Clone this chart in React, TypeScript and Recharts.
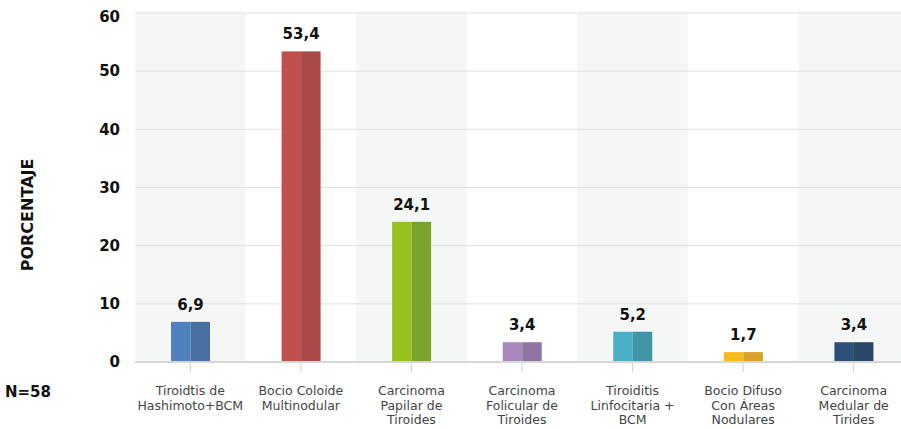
import React from 'react';
import { BarChart, Bar, XAxis, YAxis, CartesianGrid, ReferenceArea, LabelList } from 'recharts';

// categorías (saltos de línea como en la figura)
const categories = [
  'Tiroidtis de\nHashimoto+BCM',
  'Bocio Coloide\nMultinodular',
  'Carcinoma\nPapilar de\nTiroides',
  'Carcinoma\nFolicular de\nTiroides',
  'Tiroiditis\nLinfocitaria +\nBCM',
  'Bocio Difuso\nCon Áreas\nNodulares',
  'Carcinoma\nMedular de\nTirides',
];
const percentages = [6.9, 53.4, 24.1, 3.4, 5.2, 1.7, 3.4];
const yTicks = [0, 10, 20, 30, 40, 50, 60];

const lightColors = ['#4f81bf', '#c0504d', '#96c11f', '#a888bf', '#4aafc6', '#f8bc19', '#2d4f79'];
const darkColors = ['#4770a0', '#a84a49', '#7aa52d', '#8f73a0', '#3f95a5', '#d9a127', '#2a4667'];

const data = categories.map((name, i) => ({ name, value: percentages[i] }));

const FONT = '"DejaVu Sans", sans-serif';

const TwoToneBar = (props: any) => {
  const { x, y, width, height, index } = props;
  const half = width / 2;
  return (
    <g>
      <rect x={x} y={y} width={half} height={height} fill={lightColors[index]} />
      <rect x={x + half} y={y} width={width - half} height={height} fill={darkColors[index]} />
    </g>
  );
};

const CategoryTick = (props: any) => {
  const { x, y, payload } = props;
  const lines = String(payload.value).split('\n');
  return (
    <text x={x} y={y + 21} textAnchor="middle" fontSize={12.5} fill="#444" fontFamily={FONT}>
      {lines.map((line, i) => (
        <tspan key={i} x={x} dy={i === 0 ? 0 : 14.6}>
          {line}
        </tspan>
      ))}
    </text>
  );
};

const App = () => {
  return (
    <div
      style={{
        position: 'fixed',
        left: 0,
        top: 0,
        width: 901,
        height: 429,
        overflow: 'hidden',
        background: '#fff',
        fontFamily: FONT,
      }}
    >
      <div style={{ position: 'absolute', left: 8, top: 8, width: 910, height: 421 }}>
        <BarChart
          width={910}
          height={421}
          data={data}
          margin={{ top: 5, right: 9, left: 0, bottom: 7 }}
          barSize={39}
        >
          {[0, 2, 4, 6].map((i) => (
            <ReferenceArea
              key={i}
              x1={categories[i]}
              x2={categories[i]}
              fill="#dfe6e2"
              fillOpacity={0.3}
              stroke="none"
              ifOverflow="visible"
            />
          ))}
          <CartesianGrid vertical={false} stroke="#e0e0e0" />
          <XAxis
            dataKey="name"
            interval={0}
            height={60}
            tickSize={10}
            tickMargin={2}
            axisLine={{ stroke: '#d6d6d6', strokeWidth: 2 }}
            tickLine={{ stroke: '#cfcfcf' }}
            tick={<CategoryTick />}
          />
          <YAxis
            width={127}
            domain={[0, 60]}
            ticks={yTicks}
            axisLine={false}
            tickLine={false}
            tickSize={8}
            tickMargin={7}
            tick={{ fontSize: 15, fontWeight: 700, fill: '#111', fontFamily: FONT }}
          />
          <Bar dataKey="value" shape={<TwoToneBar />} isAnimationActive={false}>
            <LabelList
              dataKey="value"
              position="top"
              offset={12}
              formatter={(v: any) => String(v).replace('.', ',')}
              style={{ fontSize: 15, fontWeight: 700, fill: '#111', fontFamily: FONT }}
            />
          </Bar>
        </BarChart>
      </div>
      <span
        style={{
          position: 'absolute',
          left: 27,
          top: 215,
          transform: 'translate(-50%, -50%) rotate(-90deg)',
          whiteSpace: 'nowrap',
          fontSize: 16,
          fontWeight: 700,
          color: '#111',
        }}
      >
        PORCENTAJE
      </span>
      <span
        style={{
          position: 'absolute',
          left: 5,
          top: 383,
          whiteSpace: 'nowrap',
          fontSize: 15,
          fontWeight: 700,
          color: '#111',
        }}
      >
        N=58
      </span>
    </div>
  );
};

export default App;
